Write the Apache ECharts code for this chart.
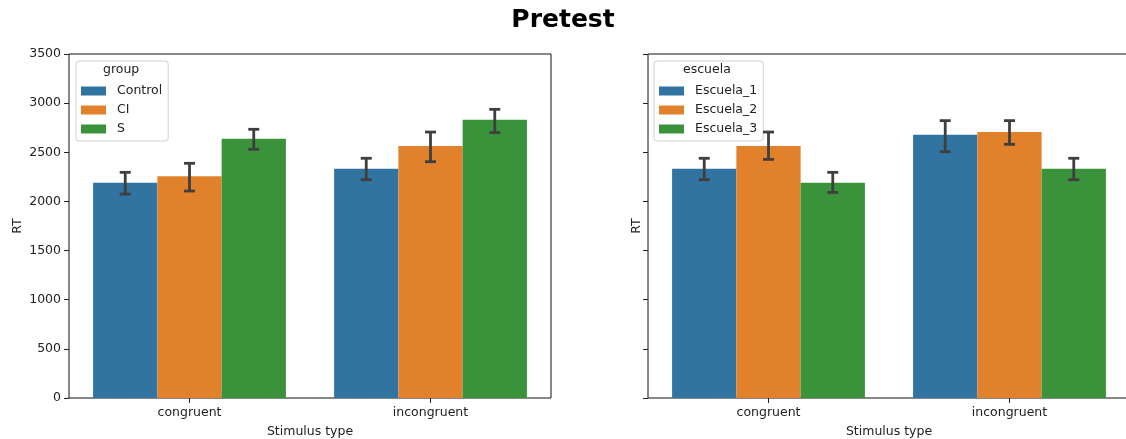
<!DOCTYPE html>
<html>
<head>
<meta charset="utf-8">
<script src="https://cdn.jsdelivr.net/npm/echarts@6/dist/echarts.min.js"></script>
<style>
  html, body { margin: 0; padding: 0; background: #fff; }
  #chart { width: 1126px; height: 439px; }
</style>
</head>
<body>
<div id="chart"></div>
<script>
// Stimulus categories shared by both panels
const categories = ['congruent', 'incongruent'];

// Left panel: RT by group (means and 95% CI bounds), [congruent, incongruent]
const groupNames = ['Control', 'CI', 'S'];
const groupMeans = [[2190, 2333], [2255, 2564], [2638, 2832]];
const groupLow   = [[2075, 2221], [2106, 2404], [2531, 2700]];
const groupHigh  = [[2296, 2439], [2388, 2706], [2734, 2937]];

// Right panel: RT by school
const schoolNames = ['Escuela_1', 'Escuela_2', 'Escuela_3'];
const schoolMeans = [[2333, 2679], [2564, 2706], [2191, 2333]];
const schoolLow   = [[2221, 2506], [2428, 2581], [2092, 2221]];
const schoolHigh  = [[2439, 2822], [2706, 2822], [2296, 2439]];

// Y axis range and tick step
const yMin = 0, yMax = 3500, yStep = 500;

const palette = ['#3274a1', '#e1812c', '#3a923a'];
const FONT = 'DejaVu Sans';
const FS = 12.5;
const INK = '#222';

function errorBarSeries(axisIdx, low, high) {
  const data = [];
  low.forEach((row, s) => row.forEach((v, c) => data.push([c, v, high[s][c], s])));
  return {
    type: 'custom',
    xAxisIndex: axisIdx,
    yAxisIndex: axisIdx,
    z: 10,
    silent: true,
    data: data,
    renderItem: function (params, api) {
      const lo = api.coord([api.value(0), api.value(1)]);
      const hi = api.coord([api.value(0), api.value(2)]);
      const band = api.size([1, 0])[0];
      const bw = band * 0.8 / 3;
      const x = lo[0] + (api.value(3) - 1) * bw;
      const cap = 5.5;
      const style = { stroke: '#3f3f3f', lineWidth: 2.8 };
      return {
        type: 'group',
        children: [
          { type: 'line', shape: { x1: x, y1: lo[1], x2: x, y2: hi[1] }, style: style },
          { type: 'line', shape: { x1: x - cap, y1: lo[1], x2: x + cap, y2: lo[1] }, style: style },
          { type: 'line', shape: { x1: x - cap, y1: hi[1], x2: x + cap, y2: hi[1] }, style: style }
        ]
      };
    }
  };
}

function barSeries(axisIdx, names, means) {
  return names.map((n, i) => ({
    type: 'bar',
    name: n,
    xAxisIndex: axisIdx,
    yAxisIndex: axisIdx,
    data: means[i],
    barGap: '0%',
    barCategoryGap: '20%',
    itemStyle: { color: palette[i] },
    emphasis: { disabled: true }
  }));
}

function xAxisCfg(gridIdx) {
  return {
    type: 'category',
    gridIndex: gridIdx,
    data: categories,
    name: 'Stimulus type',
    nameLocation: 'middle',
    nameGap: 27,
    nameTextStyle: { fontFamily: FONT, fontSize: FS, color: INK },
    axisLine: { show: false },
    axisTick: { show: true, alignWithLabel: true, length: 5, lineStyle: { color: INK } },
    axisLabel: { fontFamily: FONT, fontSize: FS, color: INK, margin: 8 },
    splitLine: { show: false }
  };
}

function yAxisCfg(gridIdx, showLabels, nameGap) {
  return {
    type: 'value',
    gridIndex: gridIdx,
    min: yMin,
    max: yMax,
    interval: yStep,
    name: 'RT',
    nameLocation: 'middle',
    nameGap: nameGap,
    nameRotate: 90,
    nameTextStyle: { fontFamily: FONT, fontSize: FS, color: INK },
    axisLine: { show: false },
    axisTick: { show: true, length: 5, lineStyle: { color: INK } },
    axisLabel: { show: showLabels, fontFamily: FONT, fontSize: FS, color: INK, margin: 8,
                 formatter: v => String(v) },
    splitLine: { show: false }
  };
}

function legendCfg(names, left) {
  return {
    data: names,
    orient: 'vertical',
    left: left,
    top: 61,
    padding: [23, 6, 5, 5],
    itemWidth: 25,
    itemHeight: 9,
    itemGap: 5,
    borderColor: '#d0d0d0',
    borderWidth: 1,
    borderRadius: 3,
    backgroundColor: 'rgba(255,255,255,0.8)',
    selectedMode: false,
    icon: 'rect',
    textStyle: { fontFamily: FONT, fontSize: FS, color: INK, padding: [0, 0, 0, 6], lineHeight: 14 }
  };
}

const gridBase = {
  top: 54, width: 482, height: 344, show: true,
  borderColor: '#111', borderWidth: 1, backgroundColor: 'transparent',
  containLabel: false, outerBoundsMode: 'none'
};

const chart = echarts.init(document.getElementById('chart'), null, { renderer: 'canvas' });

chart.setOption({
  animation: false,
  backgroundColor: '#fff',
  title: {
    text: 'Pretest',
    left: 'center',
    top: 3,
    textStyle: { fontFamily: FONT, fontSize: 25, fontWeight: 'bold', color: '#000' }
  },
  grid: [
    Object.assign({ left: 69 }, gridBase),
    Object.assign({ left: 648 }, gridBase)
  ],
  xAxis: [xAxisCfg(0), xAxisCfg(1)],
  yAxis: [yAxisCfg(0, true, 45), yAxisCfg(1, false, 5)],
  legend: [legendCfg(groupNames, 76), legendCfg(schoolNames, 654)],
  graphic: [
    { type: 'text', left: 103, top: 63, z: 100, style: { text: 'group', font: FS + 'px "DejaVu Sans"', fill: INK } },
    { type: 'text', left: 683, top: 63, z: 100, style: { text: 'escuela', font: FS + 'px "DejaVu Sans"', fill: INK } }
  ],
  series: [
    ...barSeries(0, groupNames, groupMeans),
    errorBarSeries(0, groupLow, groupHigh),
    ...barSeries(1, schoolNames, schoolMeans),
    errorBarSeries(1, schoolLow, schoolHigh)
  ]
});
</script>
</body>
</html>
